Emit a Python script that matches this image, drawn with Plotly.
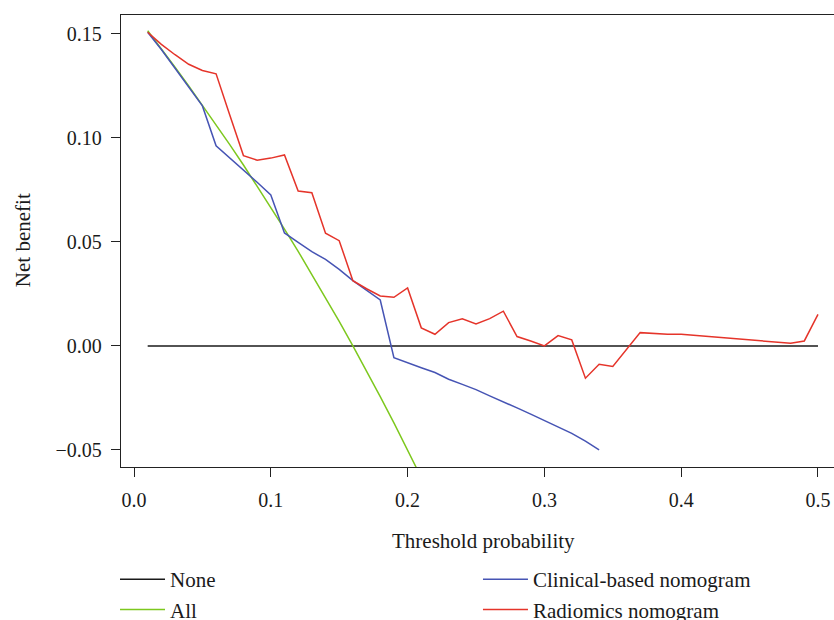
import plotly.graph_objects as go

# ---- data ----
none_x = [0.01, 0.50]
none_y = [0.0, 0.0]

all_x = [0.01, 0.02, 0.03, 0.04, 0.05, 0.06, 0.07, 0.08, 0.09, 0.10, 0.11,
         0.12, 0.13, 0.14, 0.15, 0.16, 0.17, 0.18, 0.19, 0.20, 0.21]
all_y = [0.1515, 0.1429, 0.1340, 0.1250, 0.1158, 0.1064, 0.0968, 0.0870,
         0.0769, 0.0667, 0.0562, 0.0455, 0.0345, 0.0233, 0.0118, 0.0,
         -0.0120, -0.0244, -0.0370, -0.0500, -0.0633]

clin_x = [0.01, 0.02, 0.03, 0.04, 0.05, 0.06, 0.07, 0.08, 0.09, 0.10, 0.11,
          0.12, 0.13, 0.14, 0.15, 0.16, 0.17, 0.18, 0.19, 0.20, 0.21, 0.22,
          0.23, 0.24, 0.25, 0.26, 0.27, 0.28, 0.29, 0.30, 0.31, 0.32, 0.33, 0.34]
clin_y = [0.1508, 0.1425, 0.1335, 0.1245, 0.1154, 0.0962, 0.0905, 0.0848,
          0.0787, 0.0726, 0.0543, 0.0498, 0.0453, 0.0416, 0.0368, 0.0314,
          0.0268, 0.0221, -0.0056, -0.0082, -0.0105, -0.0128, -0.0160,
          -0.0185, -0.0210, -0.0240, -0.0268, -0.0298, -0.0328, -0.0358,
          -0.0388, -0.0420, -0.0458, -0.0500]

rad_x = [0.01, 0.02, 0.03, 0.04, 0.05, 0.06, 0.07, 0.08, 0.09, 0.10, 0.11,
         0.12, 0.13, 0.14, 0.15, 0.16, 0.17, 0.18, 0.19, 0.20, 0.21, 0.22,
         0.23, 0.24, 0.25, 0.26, 0.27, 0.28, 0.29, 0.30, 0.31, 0.32, 0.33,
         0.34, 0.35, 0.36, 0.37, 0.39, 0.40, 0.48, 0.49, 0.50]
rad_y = [0.1508, 0.1450, 0.1400, 0.1354, 0.1324, 0.1308, 0.1110, 0.0915,
         0.0893, 0.0903, 0.0918, 0.0745, 0.0737, 0.0542, 0.0506, 0.0314,
         0.0275, 0.0240, 0.0234, 0.0279, 0.0087, 0.0056, 0.0112, 0.0130,
         0.0106, 0.0131, 0.0167, 0.0045, 0.0024, 0.0000, 0.0050, 0.0029,
         -0.0155, -0.0088, -0.0099, -0.0019, 0.0064, 0.0056, 0.0056,
         0.0013, 0.0024, 0.0152]

x_ticks = [0.0, 0.1, 0.2, 0.3, 0.4, 0.5]
y_ticks = [-0.05, 0.0, 0.05, 0.10, 0.15]

FONT = "Liberation Serif"
C_NONE = "#1a1a1a"
C_ALL = "#7dc81e"
C_CLIN = "#4654b4"
C_RAD = "#e5342a"
TXT = "#1a1a1a"

fig = go.Figure()
fig.add_trace(go.Scatter(x=none_x, y=none_y, mode="lines", name="None",
                         line=dict(color=C_NONE, width=1.5), legend="legend"))
fig.add_trace(go.Scatter(x=all_x, y=all_y, mode="lines", name="All",
                         line=dict(color=C_ALL, width=1.5), legend="legend"))
fig.add_trace(go.Scatter(x=clin_x, y=clin_y, mode="lines", name="Clinical-based nomogram",
                         line=dict(color=C_CLIN, width=1.5), legend="legend2"))
fig.add_trace(go.Scatter(x=rad_x, y=rad_y, mode="lines", name="Radiomics nomogram",
                         line=dict(color=C_RAD, width=1.5), legend="legend2"))

axis_common = dict(showgrid=False, zeroline=False, showline=True,
                   linecolor="#222", linewidth=1.3, ticks="outside",
                   tickcolor="#222", tickwidth=1.2, ticklen=9,
                   automargin=False,
                   tickfont=dict(family=FONT, size=20, color=TXT))

legend_common = dict(xanchor="left", yanchor="top", orientation="v",
                     xref="container", yref="container",
                     bgcolor="rgba(0,0,0,0)", tracegroupgap=0,
                     itemwidth=45,
                     font=dict(family=FONT, size=21, color=TXT))

fig.update_layout(
    width=834, height=620,
    margin=dict(l=121, r=0, t=15, b=153, autoexpand=False),
    paper_bgcolor="white", plot_bgcolor="white",
    font=dict(family=FONT, size=20, color=TXT),
    xaxis=dict(range=[-0.0095, 0.5117], tickvals=x_ticks, tickformat=".1f",
               mirror=True, ticklabelstandoff=6, **axis_common),
    yaxis=dict(range=[-0.0582, 0.1591], tickvals=y_ticks, tickformat=".2f",
               ticklabelstandoff=5, **axis_common),
    legend=dict(x=0.1379, y=0.0984, **legend_common),
    legend2=dict(x=0.5731, y=0.0984, **legend_common),
    annotations=[
        dict(text="Threshold probability", xref="paper", yref="paper",
             x=0.508, y=-0.1637, xanchor="center", yanchor="middle",
             showarrow=False, font=dict(family=FONT, size=21, color=TXT)),
        dict(text="Net benefit", xref="paper", yref="paper",
             x=-0.1374, y=0.502, xanchor="center", yanchor="middle",
             textangle=-90, showarrow=False,
             font=dict(family=FONT, size=21, color=TXT)),
    ],
)

fig.write_html(
    "out.html",
    config={"displayModeBar": False},
    post_script="document.body.style.margin='0';document.body.style.overflow='hidden';",
)
